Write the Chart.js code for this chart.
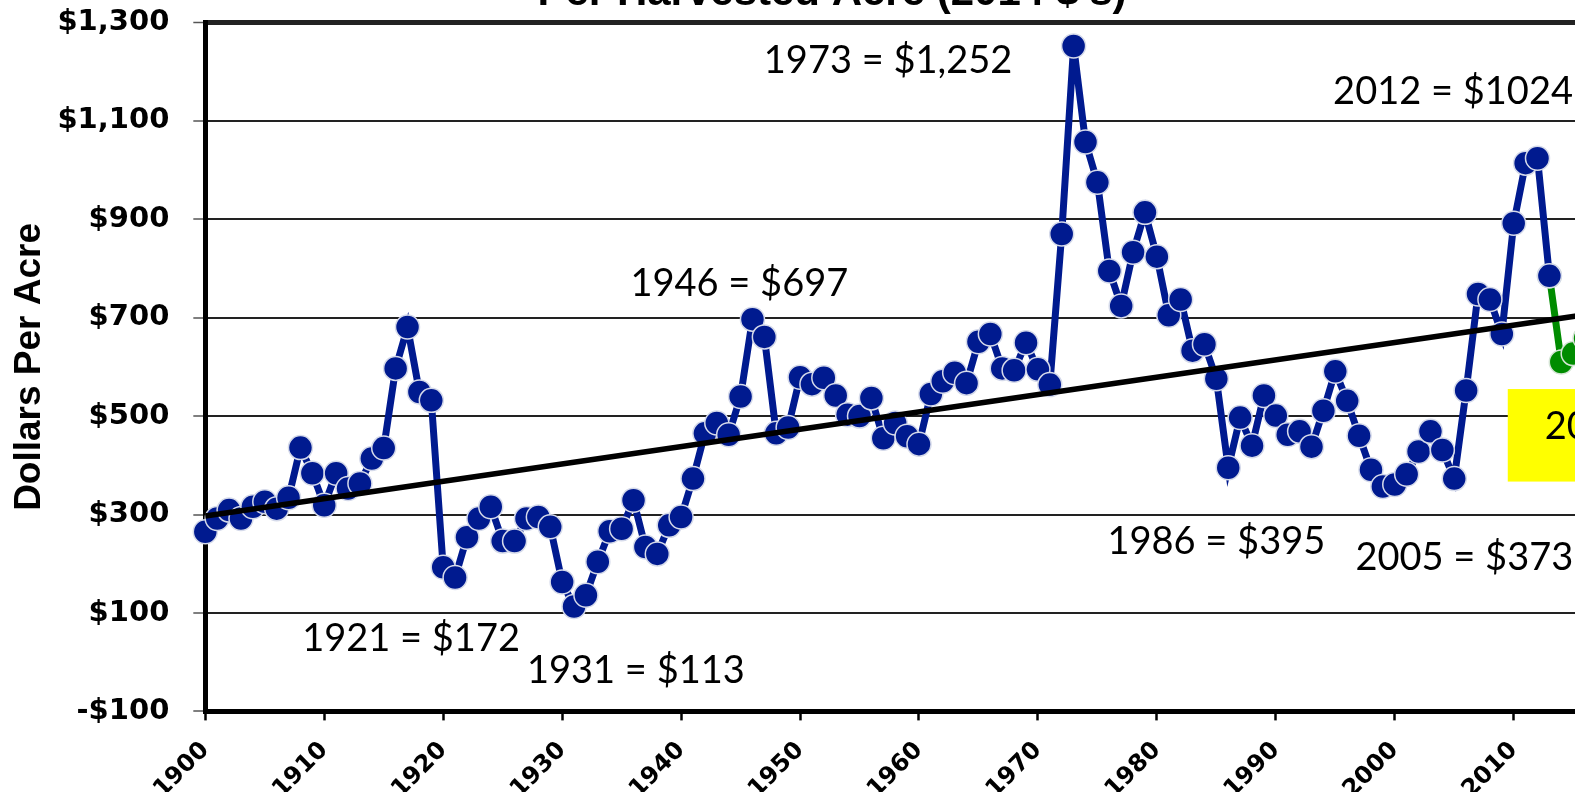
<!DOCTYPE html>
<html>
<head>
<meta charset="utf-8">
<title>Per Harvested Acre (2014 $'s)</title>
<script src="https://cdn.jsdelivr.net/npm/chart.js@4.4.0/dist/chart.umd.min.js"></script>
<style>
  html, body { margin: 0; padding: 0; background: #fff; overflow: hidden; width: 1575px; height: 792px; }
  #wrap { position: absolute; left: 0; top: -40px; width: 1664px; height: 860px; }
</style>
</head>
<body>
<div id="wrap"><canvas id="mycanvas"></canvas></div>
<script>
// dollars per harvested acre, 2014 dollars, one value a year from 1900
var firstYear = 1900;
var revenue = [
  265, 292, 309, 292, 316, 326, 312, 334, 436, 384,   // 1900s
  319, 384, 353, 363, 414, 435, 597, 681, 549, 532,   // 1910s
  193, 172, 254, 292, 316, 246, 246, 292, 295, 275,   // 1920s
  163, 113, 136, 204, 266, 271, 329, 234, 220, 278,   // 1930s
  295, 373, 465, 486, 462, 540, 697, 661, 465, 477,   // 1940s
  579, 565, 578, 542, 503, 500, 537, 455, 486, 459,   // 1950s
  443, 545, 571, 588, 567, 651, 667, 597, 593, 649,   // 1960s
  595, 564, 870, 1252, 1057, 975, 795, 724, 833, 914, // 1970s
  824, 705, 737, 633, 646, 576, 395, 497, 440, 542,   // 1980s
  501, 462, 469, 438, 511, 591, 531, 460, 391, 357,   // 1990s
  361, 382, 428, 469, 431, 373, 552, 748, 737, 667,   // 2000s
  892, 1014, 1024, 785                                // 2010-2013
];

// estimates drawn in green
var estYears = [2013, 2014, 2015, 2016];
var estValues = [785, 610, 627, 658];

// trend line ends
var trendYears = [1900, 2016];
var trendValues = [297, 706];

var xTicks = [1900, 1910, 1920, 1930, 1940, 1950, 1960, 1970, 1980, 1990, 2000, 2010];
var yTicks = [-100, 100, 300, 500, 700, 900, 1100, 1300];
var yTickLabels = ['-$100', '$100', '$300', '$500', '$700', '$900', '$1,100', '$1,300'];

var notes = [
  { text: '1973 = $1,252', year: 1957.4, value: 1222 },
  { text: '2012 = $1024', year: 2004.9, value: 1159 },
  { text: '1946 = $697', year: 1944.9, value: 768 },
  { text: '1921 = $172', year: 1917.3, value: 48 },
  { text: '1931 = $113', year: 1936.2, value: -17 },
  { text: '1986 = $395', year: 1985.0, value: 244 },
  { text: '2005 = $373', year: 2005.85, value: 212 }
];
var estBox = { from: 2009.5, to: 2030, low: 367, high: 555, text: '2014-2016 Est.', year: 2012.6, value: 478 };

var blue = '#001A8F';
var green = '#008C00';

function toPoints(xs, ys) {
  var pts = [];
  for (var i in ys) {
    pts.push({ x: xs[i], y: ys[i] });
  }
  return pts;
}

var revYears = [];
for (var i = 0; i < revenue.length; i++) {
  revYears.push(firstYear + i);
}

var notesPlugin = {
  id: 'notes',
  beforeDatasetsDraw: function(chart) {
    var ctx = chart.ctx, xs = chart.scales.x, ys = chart.scales.y;
    var x1 = xs.getPixelForValue(estBox.from);
    var x2 = xs.getPixelForValue(Math.min(estBox.to, xs.max));
    var y1 = ys.getPixelForValue(estBox.high);
    var y2 = ys.getPixelForValue(estBox.low);
    ctx.save();
    ctx.fillStyle = '#FFFF00';
    ctx.fillRect(x1, y1, x2 - x1, y2 - y1);
    ctx.fillStyle = '#000';
    ctx.font = '38px Lato';
    ctx.textAlign = 'left';
    ctx.textBaseline = 'middle';
    ctx.fillText(estBox.text, xs.getPixelForValue(estBox.year), ys.getPixelForValue(estBox.value));
    ctx.restore();
  },
  afterDatasetsDraw: function(chart) {
    var ctx = chart.ctx, xs = chart.scales.x, ys = chart.scales.y;
    ctx.save();
    ctx.fillStyle = '#000';
    ctx.font = '38px Lato';
    ctx.textAlign = 'center';
    ctx.textBaseline = 'middle';
    for (var i in notes) {
      ctx.fillText(notes[i].text, xs.getPixelForValue(notes[i].year), ys.getPixelForValue(notes[i].value));
    }
    ctx.restore();
  }
};

var chartdata = {
  datasets: [
    {
      label: 'Trend',
      data: toPoints(trendYears, trendValues),
      borderColor: '#000',
      borderWidth: 5.5,
      pointRadius: 0,
      clip: false,
      order: 0
    },
    {
      label: 'Revenue',
      data: toPoints(revYears, revenue),
      borderColor: blue,
      backgroundColor: blue,
      borderWidth: 7,
      pointRadius: 12,
      pointBorderWidth: 1.5,
      pointBorderColor: '#D5DAEA',
      pointBackgroundColor: blue,
      clip: false,
      order: 1
    },
    {
      label: 'Estimate',
      data: toPoints(estYears, estValues),
      borderColor: green,
      backgroundColor: green,
      borderWidth: 7,
      pointRadius: 12,
      pointBorderWidth: 1.5,
      pointBorderColor: '#D5E5D5',
      pointBackgroundColor: green,
      clip: false,
      order: 2
    }
  ]
};

var ctx = document.getElementById('mycanvas');

var lineGraph = new Chart(ctx, {
  type: 'line',
  data: chartdata,
  plugins: [notesPlugin],
  options: {
    responsive: true,
    maintainAspectRatio: false,
    animation: false,
    layout: { padding: { left: 0, right: 0, top: 0, bottom: 0 } },
    plugins: {
      legend: { display: false },
      tooltip: { enabled: false },
      title: {
        display: true,
        text: "Per Harvested Acre (2014 $'s)",
        color: '#000',
        font: { family: 'Liberation Sans', size: 42, weight: 'bold' },
        padding: { top: 8, bottom: 4 }
      }
    },
    scales: {
      x: {
        type: 'linear',
        min: 1900,
        max: 2021.5,
        afterBuildTicks: function(scale) {
          scale.ticks = xTicks.map(function(v) { return { value: v }; });
        },
        ticks: {
          callback: function(v) { return String(v); },
          autoSkip: false,
          minRotation: 45,
          maxRotation: 45,
          color: '#000',
          padding: 16,
          font: { family: 'DejaVu Sans', size: 24, weight: 'bold' }
        },
        grid: {
          drawOnChartArea: false,
          drawTicks: true,
          tickLength: 9,
          tickWidth: 2.5,
          tickColor: '#000',
          color: '#000'
        },
        border: { color: '#000', width: 5 }
      },
      y: {
        min: -100,
        max: 1300,
        afterBuildTicks: function(scale) {
          scale.ticks = yTicks.map(function(v) { return { value: v }; });
        },
        ticks: {
          callback: function(v) { return yTickLabels[yTicks.indexOf(v)]; },
          color: '#000',
          padding: 24,
          font: { family: 'DejaVu Sans', size: 29, weight: 'bold' }
        },
        grid: {
          color: '#222',
          lineWidth: function(c) { return c.tick && c.tick.value === 1300 ? 5 : 2; },
          tickLength: 12,
          tickWidth: 1.5,
          tickColor: '#555'
        },
        border: { color: '#000', width: 5 },
        title: {
          display: true,
          text: 'Dollars Per Acre',
          color: '#000',
          font: { family: 'Liberation Sans', size: 37, weight: 'bold' },
          padding: { top: 8, bottom: -19 }
        }
      }
    }
  }
});
</script>
</body>
</html>
